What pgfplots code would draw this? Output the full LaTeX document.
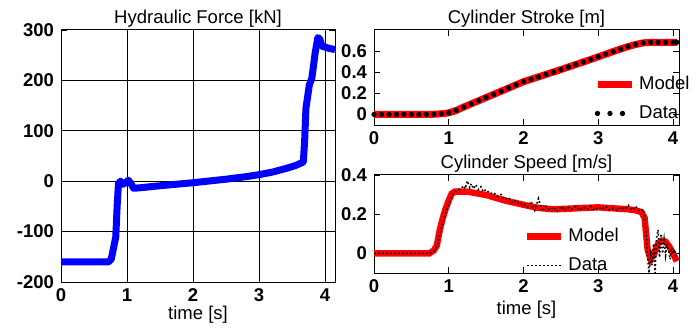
\documentclass[border=0pt]{standalone}
\usepackage{pgfplots}
\pgfplotsset{compat=1.18}
\usepackage{fontspec}
\setmainfont{Liberation Sans}
\pgfplotstableread{
t f
0 -160
0.72 -160
0.76 -155
0.80 -130
0.83 -110
0.85 -50
0.87 -5
0.90 0
0.94 -6
0.98 -3
1.02 2
1.06 -5
1.10 -14
1.2 -13
1.5 -9
2.0 -3
2.5 4
2.8 9
3.0 13
3.2 18
3.4 25
3.55 31
3.67 38
3.69 80
3.71 145
3.76 190
3.80 205
3.85 255
3.89 285
3.92 282
3.95 268
4.0 266
4.05 264
4.15 261
}\force
\pgfplotstableread{
t s
0.0 0
0.1 0
0.2 0
0.3 0
0.4 0
0.5 0
0.6 0
0.7 0
0.8 0.002
0.9 0.006
1.0 0.015
1.1 0.038
1.2 0.07
1.3 0.10
1.4 0.13
1.5 0.16
1.6 0.19
1.7 0.22
1.8 0.25
1.9 0.28
2.0 0.31
2.1 0.333
2.2 0.356
2.3 0.379
2.4 0.402
2.5 0.425
2.6 0.449
2.7 0.473
2.8 0.497
2.9 0.521
3.0 0.546
3.1 0.571
3.2 0.596
3.3 0.62
3.4 0.643
3.5 0.663
3.6 0.678
3.7 0.683
3.8 0.683
3.9 0.683
4.0 0.683
4.05 0.683
}\stroke
\pgfplotstableread{
t v
0 0
0.74 0
0.8 0.015
0.84 0.04
0.88 0.12
0.92 0.18
0.96 0.23
1.0 0.27
1.04 0.305
1.08 0.315
1.25 0.315
1.5 0.298
1.75 0.27
2.0 0.248
2.2 0.232
2.4 0.225
2.6 0.228
2.8 0.232
3.0 0.235
3.2 0.23
3.4 0.225
3.5 0.22
3.58 0.21
3.62 0.18
3.64 0.10
3.66 0.02
3.7 -0.03
3.75 0.0
3.8 0.05
3.85 0.065
3.9 0.06
3.95 0.035
4.0 0.0
4.05 -0.04
}\speedmodel
\pgfplotstableread{
t v
0 0
0.74 0
0.8 0.01
0.85 0.04
0.88 0.1
0.92 0.15
0.96 0.21
1.0 0.25
1.04 0.29
1.08 0.31
1.12 0.325
1.16 0.33
1.2 0.345
1.22 0.33
1.25 0.37
1.28 0.335
1.3 0.355
1.33 0.33
1.36 0.35
1.4 0.325
1.43 0.34
1.46 0.315
1.5 0.325
1.55 0.305
1.6 0.31
1.65 0.29
1.7 0.3
1.75 0.275
1.8 0.285
1.85 0.26
1.9 0.27
1.95 0.25
2.0 0.255
2.05 0.235
2.1 0.265
2.15 0.22
2.2 0.28
2.25 0.215
2.3 0.24
2.35 0.22
2.4 0.235
2.45 0.215
2.5 0.24
2.55 0.22
2.6 0.235
2.65 0.225
2.7 0.24
2.75 0.22
2.8 0.235
2.85 0.225
2.9 0.24
2.95 0.22
3.0 0.235
3.05 0.225
3.1 0.24
3.15 0.22
3.2 0.23
3.25 0.22
3.3 0.235
3.35 0.225
3.4 0.245
3.45 0.22
3.5 0.24
3.55 0.215
3.6 0.225
3.62 0.2
3.64 0.1
3.66 -0.02
3.68 -0.1
3.7 0.02
3.72 -0.06
3.74 0.05
3.76 -0.1
3.78 0.08
3.8 0.12
3.82 -0.02
3.84 0.1
3.86 0.0
3.88 0.07
3.9 -0.01
3.92 0.05
3.94 0.02
3.96 -0.03
3.98 0.03
4.0 0.0
4.02 0.02
4.04 -0.03
}\speeddata
\begin{document}
\begin{tikzpicture}
\useasboundingbox (0,0) rectangle (349.5pt,163.5pt);
\pgfplotsset{
  every axis/.append style={
    scale only axis,
    font=\fontsize{9.25}{11}\selectfont,
    axis line style={line width=0.5pt},
    tick label style={font=\fontsize{9.25}{11}\selectfont\bfseries},
    /pgf/number format/assume math mode=true,
    tick style={black, line width=0.4pt},
    major tick length=3pt,
    title style={at={(0.5,1)}, anchor=base, yshift=-3pt},
  },
}
% left
\begin{axis}[
  at={(30.5pt,22.5pt)}, anchor=south west,
  width=137pt, height=126pt,
  xmin=0, xmax=4.15, ymin=-200, ymax=300,
  xtick={0,1,2,3,4}, ytick={-200,-100,0,100,200,300},
  grid=major, grid style={black, line width=0.5pt},
  title={Hydraulic Force [kN]},
  xlabel={time [s]}, xlabel style={at={(0.5,0)}, anchor=base, yshift=-18.5pt},
]
\addplot[blue, line width=3.5pt, line join=round] table[x=t,y=f] {\force};
\end{axis}
% top right
\begin{axis}[
  at={(187pt,101pt)}, anchor=south west,
  width=152.5pt, height=47.5pt,
  xmin=0, xmax=4.08, ymin=-0.1, ymax=0.8,
  xtick={0,1,2,3,4}, ytick={0,0.2,0.4,0.6},
  title={Cylinder Stroke [m]},
  legend style={draw=none, fill=none, at={(0.72,0.56)}, anchor=north west,
    font=\fontsize{9.25}{11}\selectfont, row sep=2.5pt, inner sep=0pt},
  legend cell align=left,
]
\addplot[red, line width=3.5pt] table[x=t,y=s] {\stroke};
\addlegendentry{Model}
\addplot[black, only marks, mark=*, mark size=1.1pt,
  legend image code/.code={\foreach \xx in {0,6.25,12.5}{\fill (\xx pt,0) circle (1.1pt);}}]
  table[x=t,y=s] {\stroke};
\addlegendentry{Data}
\end{axis}
% bottom right
\begin{axis}[
  at={(187pt,27pt)}, anchor=south west,
  width=152.5pt, height=49pt,
  xmin=0, xmax=4.08, ymin=-0.1, ymax=0.4,
  xtick={0,1,2,3,4}, ytick={0,0.2,0.4},
  title={Cylinder Speed [m/s]},
  xlabel={time [s]}, xlabel style={at={(0.5,0)}, anchor=base, yshift=-20.5pt},
  legend style={draw=none, fill=none, at={(0.49,0.5)}, anchor=north west,
    font=\fontsize{9.25}{11}\selectfont, row sep=2.5pt, inner sep=0pt},
  legend cell align=left,
]
\addplot[red, line width=3.2pt] table[x=t,y=v] {\speedmodel};
\addlegendentry{Model}
\addplot[black, line width=0.8pt, dash pattern=on 0.8pt off 1.2pt] table[x=t,y=v] {\speeddata};
\addlegendentry{Data}
\end{axis}
\end{tikzpicture}
\end{document}
